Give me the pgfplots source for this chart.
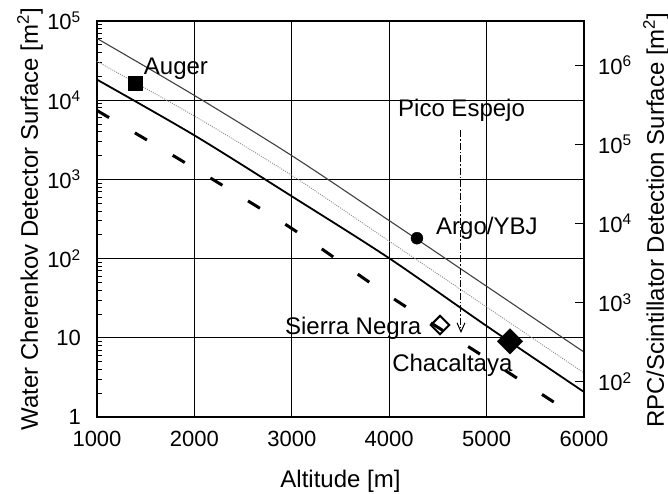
\documentclass[border=0pt]{standalone}
\usepackage{pgfplots}
\pgfplotsset{compat=1.18}
\usepackage{fontspec}
\setmainfont{Liberation Sans}
\usetikzlibrary{arrows.meta}

\newcommand{\tp}[1]{10\textsuperscript{#1}}

\begin{document}
\begin{tikzpicture}[font=\fontsize{24}{28}\selectfont]
\pgfplotsset{every axis/.append style={
  scale only axis, width=487pt, height=396pt,
  xmin=1000, xmax=6000,
  axis line style={line width=1.5pt},
  tick label style={font=\fontsize{22}{26}\selectfont},
  label style={font=\fontsize{24}{28}\selectfont},
}}
\begin{axis}[
  ymode=log, ymin=1, ymax=1e5,
  xtick={1000,2000,3000,4000,5000,6000},
  xticklabels={1000,2000,3000,4000,5000,6000},
  ytick={1,10,100,1000,10000,100000},
  yticklabels={1,10,\tp{2},\tp{3},\tp{4},\tp{5}},
  ytick pos=left, xtick pos=bottom,
  tick align=inside,
  major tick length=0pt, minor tick length=5pt,
  minor tick style={black, line width=0.8pt},
  grid=major,
  major grid style={black, line width=1.1pt},
  xticklabel style={inner sep=0pt, yshift=-14pt},
  yticklabel style={inner sep=0pt, xshift=-16pt},
  xlabel={Altitude [m]},
  xlabel style={at={(axis description cs:0.5,-0.162)}, anchor=center},
  ylabel={Water Cherenkov Detector Surface [m\textsuperscript{2}]},
  ylabel style={at={(axis description cs:-0.1376,0.5)}, anchor=center},
]
% thin upper line
\addplot[black!75, line width=1.1pt, smooth] coordinates {
  (1000,60256) (2000,11482) (3000,1995) (4000,302) (5000,44.7) (6000,6.6)
};
% dotted line
\addplot[black!45, line width=0.9pt, dash pattern=on 1pt off 1.2pt, smooth] coordinates {
  (1000,30903) (2000,6310) (3000,1122) (4000,166) (5000,24.5) (6000,3.6)
};
% thick solid line
\addplot[black, line width=1.8pt, smooth] coordinates {
  (1000,18197) (2000,3597) (3000,612) (4000,101) (5000,14.1) (6000,2.07)
};
% dashed line
\addplot[black, line width=3pt, dash pattern=on 14pt off 30pt, smooth] coordinates {
  (1000,7413) (2000,1380) (3000,240) (4000,33.9) (5000,5.5) (5750,1.38)
};
% Pico Espejo arrow
\addplot[black, line width=1pt, dash pattern=on 7pt off 2pt on 1.5pt off 2pt,
  -{Straight Barb[length=9pt,width=8pt]}] coordinates {(4737,4150) (4737,11.5)};
% sites
\addplot[only marks, mark=square*, mark size=7pt, black] coordinates {(1390,16300)};
\addplot[only marks, mark=*, mark size=6pt, black] coordinates {(4285,181)};
\addplot[only marks, mark=square, mark size=6.5pt, black,
  mark options={rotate=45, line width=2pt, fill=white}] coordinates {(4522,14.5)};
\addplot[only marks, mark=square*, mark size=9pt, black,
  mark options={rotate=45}] coordinates {(5240,9)};
\node[anchor=west, inner sep=0pt] at (axis cs:1480,25300) {Auger};
\node[anchor=west, inner sep=0pt] at (axis cs:4090,7450) {Pico Espejo};
\node[anchor=west, inner sep=0pt] at (axis cs:4480,242) {Argo/YBJ};
\node[anchor=east, inner sep=0pt] at (axis cs:4330,13.2) {Sierra Negra};
\node[anchor=west, inner sep=0pt] at (axis cs:4030,4.5) {Chacaltaya};
\end{axis}
\begin{axis}[
  ymode=log, ymin=36, ymax=3.6e6,
  axis y line*=right, axis x line=none,
  ytick={100,1000,10000,100000,1000000},
  yticklabels={\tp{2},\tp{3},\tp{4},\tp{5},\tp{6}},
  yminorticks=false,
  tick align=inside, major tick length=9pt,
  major tick style={black, line width=1pt},
  yticklabel style={inner sep=0pt, xshift=14pt},
  ylabel={RPC/Scintillator Detection Surface [m\textsuperscript{2}]},
  ylabel style={at={(axis description cs:1.148,0.497)}, anchor=center},
]
\end{axis}
\pgfresetboundingbox
\useasboundingbox (-97pt,-76pt) rectangle (571pt,417pt);
\end{tikzpicture}
\end{document}
